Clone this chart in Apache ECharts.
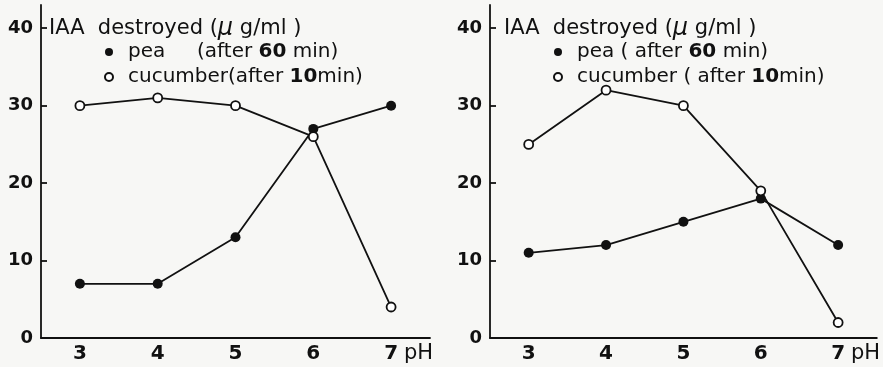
<!DOCTYPE html>
<html>
<head>
<meta charset="utf-8">
<script src="https://cdn.jsdelivr.net/npm/echarts@6/dist/echarts.min.js"></script>
<style>
  html, body { margin: 0; padding: 0; background: #f7f7f5; }
  #chart { width: 883px; height: 367px; }
</style>
</head>
<body>
<div id="chart"></div>
<script>
// pH values on the x axis
var phLabels = ['3', '4', '5', '6', '7'];
var yTicks = [0, 10, 20, 30, 40];

// left panel
var peaLeft = [7, 7, 13, 27, 30];
var cucumberLeft = [30, 31, 30, 26, 4];

// right panel
var peaRight = [11, 12, 15, 18, 12];
var cucumberRight = [25, 32, 30, 19, 2];

var FONT = 'DejaVu Sans';
var INK = '#111';

function makeXAxis(idx, nameGap) {
    return {
        type: 'category',
        gridIndex: idx,
        data: phLabels,
        boundaryGap: true,
        name: 'pH',
        nameLocation: 'end',
        nameGap: nameGap,
        nameTextStyle: {
            color: INK, fontFamily: FONT, fontSize: 21,
            align: 'left', verticalAlign: 'top', padding: [5, 0, 0, 0]
        },
        axisLine: { lineStyle: { color: INK, width: 1.8 } },
        axisTick: { inside: true, length: 8, alignWithLabel: true, lineStyle: { color: INK, width: 1.8 } },
        axisLabel: { color: INK, fontFamily: FONT, fontSize: 20, fontWeight: 'bold', margin: 6 },
        splitLine: { show: false }
    };
}

function makeYAxis(idx) {
    return {
        type: 'value',
        gridIndex: idx,
        min: 0,
        max: 43,
        axisLine: { show: true, lineStyle: { color: INK, width: 1.8 } },
        axisTick: { show: true, inside: true, length: 6, customValues: yTicks, lineStyle: { color: INK, width: 1.8 } },
        axisLabel: { color: INK, fontFamily: FONT, fontSize: 18, fontWeight: 'bold', margin: 8, customValues: yTicks },
        splitLine: { show: false }
    };
}

function peaSeries(idx, data) {
    return {
        name: 'pea',
        type: 'line',
        xAxisIndex: idx,
        yAxisIndex: idx,
        data: data,
        symbol: 'circle',
        symbolSize: 10,
        itemStyle: { color: INK },
        lineStyle: { color: INK, width: 1.8 },
        z: 2
    };
}

function cucumberSeries(idx, data) {
    return {
        name: 'cucumber',
        type: 'line',
        xAxisIndex: idx,
        yAxisIndex: idx,
        data: data,
        symbol: 'circle',
        symbolSize: 9,
        itemStyle: { color: '#fff', borderColor: INK, borderWidth: 1.8 },
        lineStyle: { color: INK, width: 1.8 },
        z: 3
    };
}

function makeLegend(left, peaText, cucText) {
    return {
        orient: 'vertical',
        left: left,
        top: 42,
        padding: 0,
        itemGap: 5,
        itemWidth: 28,
        itemHeight: 8,
        selectedMode: false,
        data: [
            { name: 'pea', icon: 'circle' },
            { name: 'cucumber', icon: 'circle' }
        ],
        formatter: function (name) {
            return name === 'pea' ? peaText : cucText;
        },
        textStyle: {
            color: INK, fontFamily: FONT, fontSize: 20, lineHeight: 20,
            rich: {
                n: { color: INK, fontFamily: FONT, fontSize: 20 },
                b: { color: INK, fontFamily: FONT, fontSize: 20, fontWeight: 'bold' }
            }
        }
    };
}

function makeTitle(left) {
    return {
        text: '{t|IAA  destroyed (}{m|\u03bc}{t| g/ml )}',
        left: left,
        top: 17,
        padding: 0,
        textStyle: {
            color: INK, fontFamily: FONT, fontSize: 21, fontWeight: 'normal',
            rich: {
                t: { color: INK, fontFamily: FONT, fontSize: 21 },
                m: { color: INK, fontFamily: FONT, fontSize: 24, fontStyle: 'italic' }
            }
        }
    };
}

var chart = echarts.init(document.getElementById('chart'));

var option = {
    backgroundColor: '#f7f7f5',
    animation: false,
    title: [makeTitle(49), makeTitle(504)],
    legend: [
        makeLegend(104, '{n|pea     (after }{b|60}{n| min)}', '{n|cucumber(after }{b|10}{n|min)}'),
        makeLegend(553, '{n|pea ( after }{b|60}{n| min)}', '{n|cucumber ( after }{b|10}{n|min)}')
    ],
    grid: [
        { left: 41, right: 453, top: 5, bottom: 29 },
        { left: 490, right: 5, top: 5, bottom: 29 }
    ],
    xAxis: [makeXAxis(0, -28), makeXAxis(1, -30)],
    yAxis: [makeYAxis(0), makeYAxis(1)],
    series: [
        peaSeries(0, peaLeft),
        cucumberSeries(0, cucumberLeft),
        peaSeries(1, peaRight),
        cucumberSeries(1, cucumberRight)
    ]
};

chart.setOption(option);

window.addEventListener('resize', function () {
    chart.resize();
});
</script>
</body>
</html>
